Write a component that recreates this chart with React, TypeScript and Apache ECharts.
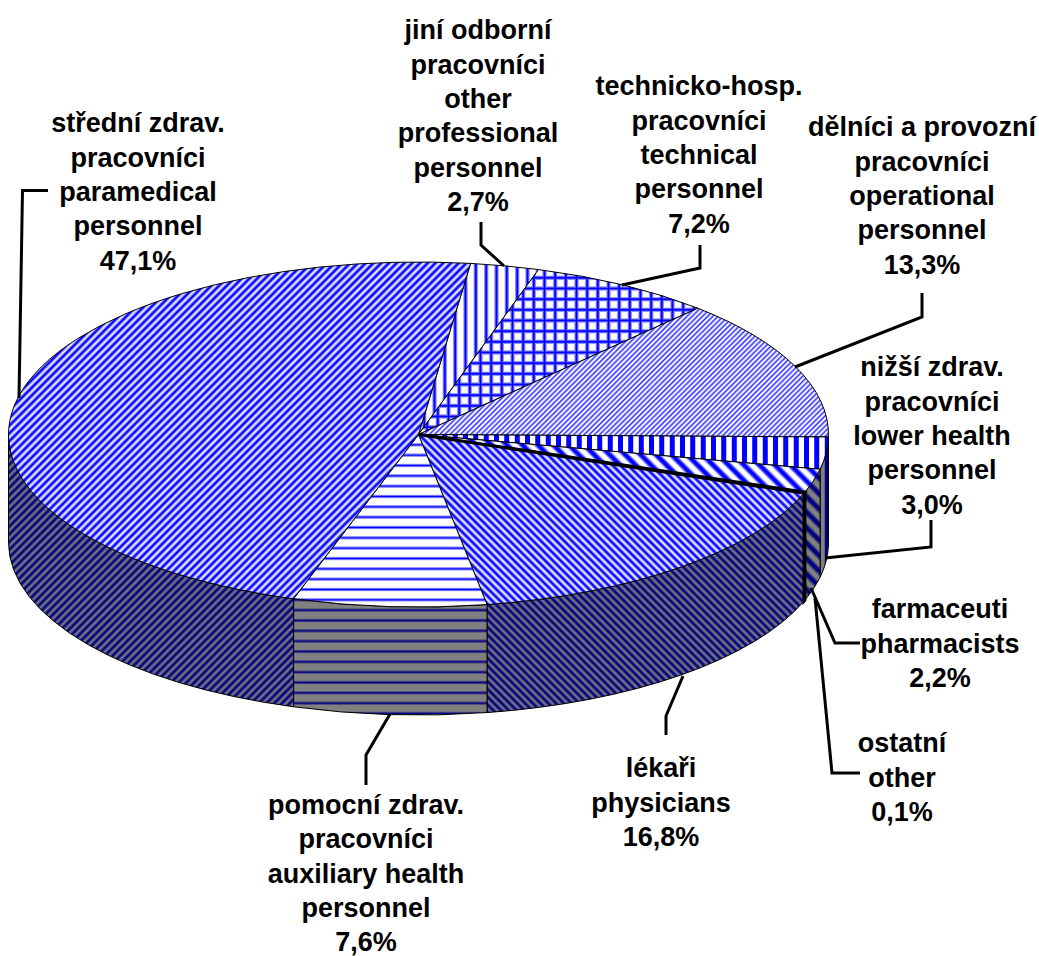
import React, { useEffect, useRef } from "react";
import * as echarts from "echarts";

// ---- data (clockwise order, starting from the top of the pie) ----
const categories = [
  ["jiní odborní", "pracovníci", "other", "professional", "personnel"],
  ["technicko-hosp.", "pracovníci", "technical", "personnel"],
  ["dělníci a provozní", "pracovníci", "operational", "personnel"],
  ["nižší zdrav.", "pracovníci", "lower health", "personnel"],
  ["farmaceuti", "pharmacists"],
  ["ostatní", "other"],
  ["lékaři", "physicians"],
  ["pomocní zdrav.", "pracovníci", "auxiliary health", "personnel"],
  ["střední zdrav.", "pracovníci", "paramedical", "personnel"],
];
const shares = [2.7, 7.2, 13.3, 3.0, 2.2, 0.1, 16.8, 7.6, 47.1];
const shareLabels = ["2,7%", "7,2%", "13,3%", "3,0%", "2,2%", "0,1%", "16,8%", "7,6%", "47,1%"];

// ---- layout ----
const CX = 418.5;
const CY = 434.5;
const RX = 410;
const RY = 172.5;
const DEPTH = 108;
const START_ANGLE = 7.3;
const LINE_H = 34.4;
const labelAnchors: number[][] = [
  [478, 13], [699, 69], [922, 110], [932, 350], [940, 592], [902, 726], [661, 751], [366, 787.5], [138, 106],
];
const leaders: number[][][] = [
  [[481, 222], [481, 245], [504, 266]],
  [[700, 245], [700, 268], [622, 285]],
  [[922, 293], [922, 317], [795, 367]],
  [[931, 520], [931, 547], [825, 558]],
  [[860, 643], [835, 643], [811, 588]],
  [[860, 773], [832, 773], [815, 598]],
  [[666, 735], [666, 716], [683, 676]],
  [[366, 785], [366, 755], [390, 714]],
  [[48, 190.5], [22.5, 190.5], [19, 398]],
];

type Pat = { kind: string; n: number; w: number; blur: number; T?: number };
const patterns: Pat[] = [
  { kind: "v", n: 3, w: 3, blur: 1.2 },
  { kind: "grid", n: 3, w: 3, blur: 1.2, T: 32 },
  { kind: "up", n: 6, w: 1.2, blur: 1 },
  { kind: "v", n: 3, w: 5, blur: 0.3 },
  { kind: "down", n: 2, w: 5, blur: 1.4 },
  { kind: "none", n: 1, w: 0, blur: 1 },
  { kind: "down", n: 4, w: 3, blur: 1.2 },
  { kind: "h", n: 3, w: 2.2, blur: 1.1 },
  { kind: "up", n: 4, w: 3, blur: 1.2 },
];

function makeTile(p: Pat, fg: number[], bg: number[]) {
  const T = p.T ?? 31;
  const c = document.createElement("canvas");
  c.width = T;
  c.height = T;
  const ctx = c.getContext("2d")!;
  const img = ctx.createImageData(T, T);
  const per = T / p.n;
  const band = (u: number, scale: number) => {
    let m = ((u % per) + per) % per;
    m = Math.min(m, per - m) * scale;
    return Math.max(0, Math.min(1, (p.w / 2 + p.blur - m) / (2 * p.blur)));
  };
  for (let y = 0; y < T; y++) {
    for (let x = 0; x < T; x++) {
      let v = 0;
      if (p.kind === "v") v = band(x, 1);
      else if (p.kind === "h") v = band(y, 1);
      else if (p.kind === "grid") v = Math.max(band(x, 1), band(y, 1));
      else if (p.kind === "up") v = band(x + y, Math.SQRT1_2);
      else if (p.kind === "down") v = band(x - y, Math.SQRT1_2);
      const i = (y * T + x) * 4;
      for (let k = 0; k < 3; k++) img.data[i + k] = Math.round(bg[k] + (fg[k] - bg[k]) * v);
      img.data[i + 3] = 255;
    }
  }
  ctx.putImageData(img, 0, 0);
  return { image: c, repeat: "repeat" as const, imageWidth: T, imageHeight: T };
}

const rad = (d: number) => (d * Math.PI) / 180;
const px = (t: number) => CX + RX * Math.sin(rad(t));
const py = (t: number) => CY - RY * Math.cos(rad(t));

function sliceAngles() {
  const total = shares.reduce((a, b) => a + b, 0);
  let a = START_ANGLE;
  return shares.map((v) => {
    const s = a;
    a += (v / total) * 360;
    return [s, a];
  });
}

export default function App() {
  const ref = useRef<HTMLDivElement>(null);
  useEffect(() => {
    document.body.style.margin = "0";
    const chart = echarts.init(ref.current!, undefined, { renderer: "svg" });
    const angles = sliceAngles();
    const topFills = patterns.map((p) =>
      p.kind === "none" ? "#ffffff" : makeTile(p, [0, 0, 255], [255, 255, 255])
    );
    const wallFills = patterns.map((p) =>
      p.kind === "none" ? "#808080" : makeTile(p, [0, 0, 128], [128, 128, 128])
    );
    const idxData = shares.map((v, i) => [i, v]);
    const thin = (i: number) => shares[i] < 0.5;
    const edgeWidth = (i: number) => (thin(i) ? 3 : 1);

    const wallItem = (_: any, api: any) => {
      const i = api.value(0);
      const t0 = Math.max(angles[i][0], 90);
      const t1 = Math.min(angles[i][1], 270);
      if (t1 <= t0) return { type: "group", children: [] };
      const d =
        `M${px(t0)} ${py(t0)} A${RX} ${RY} 0 0 1 ${px(t1)} ${py(t1)} ` +
        `L${px(t1)} ${py(t1) + DEPTH} A${RX} ${RY} 0 0 0 ${px(t0)} ${py(t0) + DEPTH} Z`;
      return {
        type: "path",
        z2: thin(i) ? 5 : 1,
        shape: { pathData: d },
        style: { fill: wallFills[i], stroke: "#000", lineWidth: edgeWidth(i) },
      };
    };
    const topItem = (_: any, api: any) => {
      const i = api.value(0);
      const [t0, t1] = angles[i];
      const d =
        `M${CX} ${CY} L${px(t0)} ${py(t0)} A${RX} ${RY} 0 ${t1 - t0 > 180 ? 1 : 0} 1 ${px(t1)} ${py(t1)} Z`;
      return {
        type: "path",
        z2: thin(i) ? 5 : 1,
        shape: { pathData: d },
        style: { fill: topFills[i], stroke: "#000", lineWidth: edgeWidth(i) },
      };
    };
    const labelItem = (_: any, api: any) => {
      const i = api.value(0);
      const lines = [...categories[i], shareLabels[i]];
      return {
        type: "group",
        children: [
          {
            type: "polyline",
            shape: { points: leaders[i] },
            style: { fill: "none", stroke: "#000", lineWidth: 3 },
          },
          ...lines.map((text, k) => ({
            type: "text",
            style: {
              text,
              x: labelAnchors[i][0],
              y: labelAnchors[i][1] + LINE_H / 2 + k * LINE_H,
              fontFamily: "Liberation Sans",
              fontWeight: "bold",
              fontSize: 27,
              align: "center",
              verticalAlign: "middle",
              fill: "#000",
            },
          })),
        ],
      };
    };

    chart.setOption({
      animation: false,
      backgroundColor: "#fff",
      series: [
        { type: "custom", coordinateSystem: "none", renderItem: wallItem, data: idxData, z: 1, silent: true },
        { type: "custom", coordinateSystem: "none", renderItem: topItem, data: idxData, z: 2, silent: true },
        { type: "custom", coordinateSystem: "none", renderItem: labelItem, data: idxData, z: 3, silent: true },
      ],
    });
    return () => chart.dispose();
  }, []);
  return <div ref={ref} style={{ width: 1039, height: 956 }} />;
}
